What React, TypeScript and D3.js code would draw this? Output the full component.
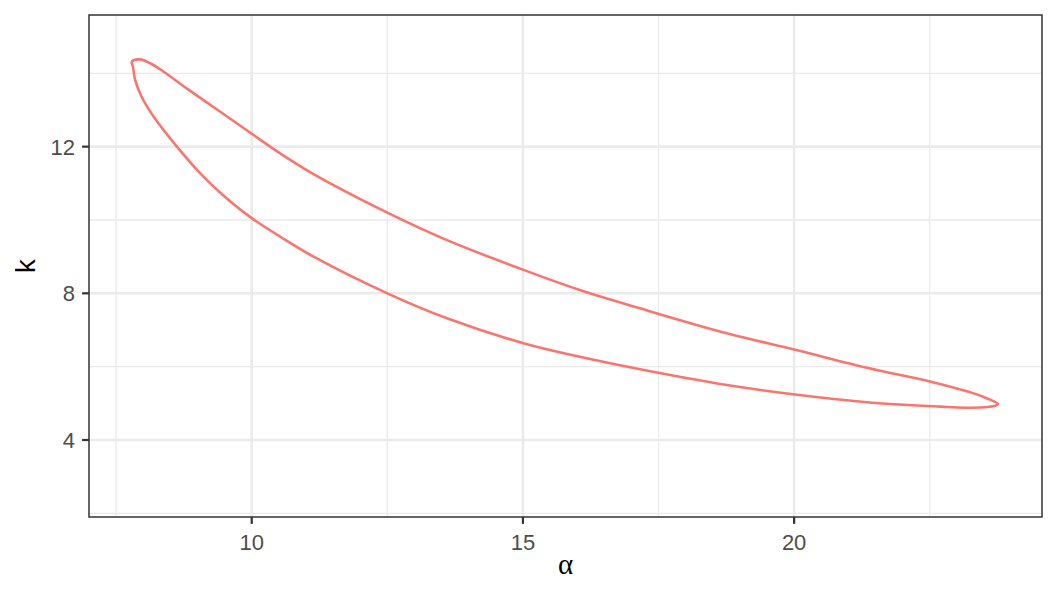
import React from "react";
import * as d3 from "d3";

// Contour outline (alpha, k), traced clockwise from the top-left
const alphaVals: number[] = [
  7.79, 7.94, 8.12, 8.37, 8.80, 9.42, 10.00, 10.52, 11.14, 12.50, 13.60, 15.01, 16.05, 17.16, 18.76, 20.02, 21.34, 22.52, 23.20, 23.55, 23.76,
  23.67, 23.18, 22.69, 21.34, 20.02, 18.76, 17.16, 16.05, 15.01, 13.60, 12.50, 11.14, 10.52, 10.00, 9.60, 9.11, 8.62, 8.19, 7.97, 7.85, 7.81,
];
const kVals: number[] = [
  14.32, 14.38, 14.28, 14.05, 13.59, 12.95, 12.35, 11.82, 11.25, 10.20, 9.45, 8.64, 8.09, 7.59, 6.91, 6.46, 5.97, 5.59, 5.32, 5.14, 4.98,
  4.92, 4.88, 4.91, 5.03, 5.24, 5.50, 5.93, 6.27, 6.64, 7.32, 8.00, 9.00, 9.55, 10.05, 10.51, 11.18, 12.00, 12.82, 13.36, 13.82, 14.18,
];

const xTicks: number[] = [10, 15, 20];
const xMinor: number[] = [7.5, 12.5, 17.5, 22.5];
const yTicks: number[] = [4, 8, 12];
const yMinor: number[] = [2, 6, 10, 14];
const xLabel = "α";
const yLabel = "k";

const W = 1056;
const H = 595;
const left = 89;
const right = 1042;
const top = 15;
const bottom = 517;

export default function App() {
  const x = d3.scaleLinear().domain([7.0, 24.57]).range([left, right]);
  const y = d3.scaleLinear().domain([1.9, 15.59]).range([bottom, top]);
  const pts: [number, number][] = alphaVals.map((a, i) => [a, kVals[i]]);
  const line = d3
    .line<[number, number]>()
    .x((d) => x(d[0]))
    .y((d) => y(d[1]))
    .curve(d3.curveCatmullRomClosed.alpha(0.5));

  return (
    <svg width={W} height={H} style={{ position: "absolute", left: 0, top: 0 }}>
      <rect x={0} y={0} width={W} height={H} fill="#fff" />
      {xMinor.map((v) => (
        <line key={"xm" + v} x1={x(v)} x2={x(v)} y1={top} y2={bottom} stroke="#EBEBEB" strokeWidth={1.3} />
      ))}
      {yMinor.map((v) => (
        <line key={"ym" + v} x1={left} x2={right} y1={y(v)} y2={y(v)} stroke="#EBEBEB" strokeWidth={1.3} />
      ))}
      {xTicks.map((v) => (
        <line key={"xg" + v} x1={x(v)} x2={x(v)} y1={top} y2={bottom} stroke="#EBEBEB" strokeWidth={2.6} />
      ))}
      {yTicks.map((v) => (
        <line key={"yg" + v} x1={left} x2={right} y1={y(v)} y2={y(v)} stroke="#EBEBEB" strokeWidth={2.6} />
      ))}
      <path d={line(pts) || ""} fill="none" stroke="#F8766D" strokeWidth={2.6} strokeLinejoin="round" />
      <rect x={left} y={top} width={right - left} height={bottom - top} fill="none" stroke="#333333" strokeWidth={1.5} />
      {xTicks.map((v) => (
        <g key={"xt" + v}>
          <line x1={x(v)} x2={x(v)} y1={bottom} y2={bottom + 6.9} stroke="#333333" strokeWidth={2.2} />
          <text x={x(v)} y={550} textAnchor="middle" fontFamily="Liberation Sans, Arial, sans-serif" fontSize={22} fill="#4D4D4D">
            {v}
          </text>
        </g>
      ))}
      {yTicks.map((v) => (
        <g key={"yt" + v}>
          <line x1={left - 6.9} x2={left} y1={y(v)} y2={y(v)} stroke="#333333" strokeWidth={2.2} />
          <text x={75} y={y(v)} dy="0.36em" textAnchor="end" fontFamily="Liberation Sans, Arial, sans-serif" fontSize={22} fill="#4D4D4D">
            {v}
          </text>
        </g>
      ))}
      <text x={(left + right) / 2} y={574} textAnchor="middle" fontFamily="Liberation Serif, Times New Roman, serif" fontSize={29} fill="#000">
        {xLabel}
      </text>
      <text
        transform={`translate(35,${(top + bottom) / 2}) rotate(-90)`}
        textAnchor="middle"
        fontFamily="Liberation Sans, Arial, sans-serif"
        fontSize={27.5}
        fill="#000"
      >
        {yLabel}
      </text>
    </svg>
  );
}
